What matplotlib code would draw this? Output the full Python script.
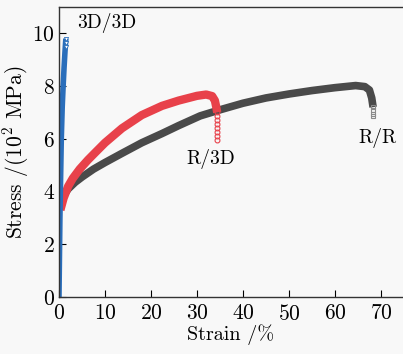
import numpy as np
import matplotlib.pyplot as plt

plt.rcParams['font.family'] = ['cmr10', 'DejaVu Serif']
plt.rcParams['mathtext.fontset'] = 'cm'
plt.rcParams['axes.formatter.use_mathtext'] = True

# 3D/3D
strain_3d = [0.0, 0.1, 0.2, 0.35, 0.5, 0.7, 0.9, 1.1, 1.3, 1.45, 1.5]
stress_3d = [0.0, 1.5, 3.0, 4.5, 6.0, 7.2, 8.0, 8.7, 9.3, 9.7, 9.8]
tail_3d_x = [1.5, 1.5, 1.5]
tail_3d_y = [9.8, 9.65, 9.5]

# R/3D
strain_r3d = [0.3, 1.0, 2.0, 3.0, 4.5, 6.3, 8.0, 10.0, 13.7, 18.0, 22.4, 26.0, 30.0, 32.0, 33.3, 33.9, 34.2, 34.4]
stress_r3d = [3.3, 3.75, 4.2, 4.5, 4.85, 5.2, 5.5, 5.85, 6.4, 6.9, 7.25, 7.45, 7.63, 7.68, 7.62, 7.45, 7.2, 7.0]
tail_r3d_x = [34.4, 34.4, 34.4, 34.4, 34.4, 34.4, 34.4, 34.4]
tail_r3d_y = [7.0, 6.85, 6.7, 6.55, 6.4, 6.25, 6.1, 5.95]

# R/R
strain_rr = [0.5, 1.0, 2.0, 3.5, 5.0, 7.5, 10.0, 13.7, 18.0, 22.4, 26.0, 30.7, 35.0, 40.0, 45.0, 50.0, 55.0, 60.0, 64.5, 66.5, 67.5, 68.0, 68.3]
stress_rr = [3.6, 3.85, 4.1, 4.35, 4.55, 4.85, 5.1, 5.45, 5.85, 6.2, 6.5, 6.87, 7.1, 7.35, 7.55, 7.7, 7.83, 7.94, 8.02, 7.98, 7.85, 7.55, 7.2]
tail_rr_x = [68.3, 68.3, 68.3, 68.3]
tail_rr_y = [7.2, 7.08, 6.96, 6.85]

fig = plt.figure(figsize=(4.03, 3.54), dpi=100, facecolor='#f8f8f8')
ax = fig.add_axes([59/403, 57/354, 344/403, 290/354])
ax.set_facecolor('#f8f8f8')

ax.plot(strain_rr, stress_rr, color='#4a4a4a', linewidth=5.5,
        solid_capstyle='butt', solid_joinstyle='round')
ax.plot(tail_rr_x, tail_rr_y, linestyle='none', marker='s', markersize=3.5,
        markerfacecolor='none', markeredgecolor='#8a8a8a', markeredgewidth=0.8)

ax.plot(strain_r3d, stress_r3d, color='#e8414a', linewidth=6,
        solid_capstyle='butt', solid_joinstyle='round')
ax.plot(tail_r3d_x, tail_r3d_y, linestyle='none', marker='o', markersize=3.5,
        markerfacecolor='none', markeredgecolor='#e8414a', markeredgewidth=0.8)

ax.plot(strain_3d, stress_3d, color='#2a6ebb', linewidth=4,
        solid_capstyle='butt', solid_joinstyle='round')
ax.plot(tail_3d_x, tail_3d_y, linestyle='none', marker='v', markersize=3,
        markerfacecolor='white', markeredgecolor='#2a6ebb', markeredgewidth=0.6)

ax.text(3.9, 10.4, '3D/3D', fontsize=14, va='center', ha='left')
ax.text(33.0, 5.25, 'R/3D', fontsize=14, va='center', ha='center')
ax.text(69.2, 6.05, 'R/R', fontsize=14, va='center', ha='center')

ax.set_xlim(0, 74.8)
ax.set_ylim(0, 11)
ax.set_xticks([0, 10, 20, 30, 40, 50, 60, 70])
ax.set_yticks([0, 2, 4, 6, 8, 10])
ax.tick_params(direction='in', length=5, width=0.8, labelsize=15.5)
ax.tick_params(axis='x', pad=5)
ax.tick_params(axis='y', pad=3)
ax.spines['right'].set_visible(False)
for s in ['left', 'bottom', 'top']:
    ax.spines[s].set_linewidth(1.0)
    ax.spines[s].set_color('#333333')

ax.set_xlabel('Strain /%', fontsize=14.5, labelpad=0)
ax.set_ylabel('Stress /(10$^2$ MPa)', fontsize=15.5, labelpad=1)

fig.savefig('out.png', dpi=100, facecolor=fig.get_facecolor())
